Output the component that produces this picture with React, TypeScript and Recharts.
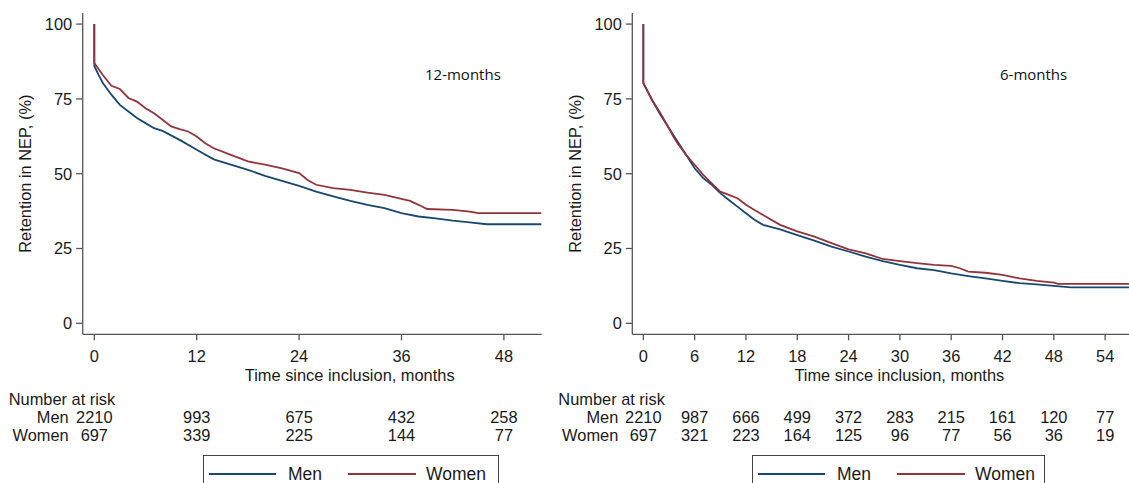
import React from 'react';
import { LineChart, Line, XAxis, YAxis } from 'recharts';

const MEN_COLOR = '#1a476f';
const WOMEN_COLOR = '#90353b';
const AXIS_COLOR = '#555';
const TEXT_COLOR = '#1a1a1a';
const FONT = '"Liberation Sans", Arial, sans-serif';
const FS = 16.4;

// 12-month panel (left)
const ticks12 = [0, 12, 24, 36, 48];
const menTime12 = [0, 0, 0.5, 1, 2, 3, 4, 5, 6, 7, 8, 10, 12, 14, 16, 18, 20, 22, 24, 26, 28, 30, 32, 34, 36, 38, 40, 42, 44, 46, 52.4];
const menRet12 = [100, 86, 83, 80.3, 76.4, 73, 70.8, 68.6, 66.9, 65.2, 64.3, 61.3, 58, 54.8, 53, 51.3, 49.3, 47.6, 45.9, 44, 42.4, 40.9, 39.6, 38.5, 36.8, 35.7, 35.1, 34.3, 33.7, 33.1, 33.1];
const womenTime12 = [0, 0, 1, 2, 3, 4, 5, 6, 7, 8, 9, 10, 11, 12, 13, 14, 16, 18, 20, 22, 24, 25, 26, 28, 30, 32, 34, 36, 37, 38, 39, 42, 44, 45, 52.4];
const womenRet12 = [100, 87, 83, 79.4, 78.3, 75.3, 74.1, 71.9, 70.2, 68, 65.8, 64.9, 64.1, 62.4, 60.2, 58.5, 56.3, 54.1, 53, 51.8, 50.2, 47.9, 46.3, 45.2, 44.6, 43.7, 42.9, 41.6, 40.9, 39.6, 38.2, 37.9, 37.3, 36.8, 36.8];
const menRisk12 = [2210, 993, 675, 432, 258];
const womenRisk12 = [697, 339, 225, 144, 77];

// 6-month panel (right)
const ticks6 = [0, 6, 12, 18, 24, 30, 36, 42, 48, 54];
const menTime6 = [0, 0, 0.5, 1, 2, 3, 4, 5, 6, 7, 8, 9, 10, 11, 12, 13, 14, 16, 18, 20, 22, 24, 26, 28, 30, 32, 34, 36, 38, 40, 42, 44, 46, 48, 50, 61];
const menRet6 = [100, 80.3, 77.5, 74.7, 69.7, 65.2, 60.8, 56.3, 51.8, 48.5, 46.3, 43.5, 41.2, 39, 36.8, 34.6, 32.9, 31.4, 29.5, 27.6, 25.6, 24, 22.3, 20.8, 19.5, 18.4, 17.8, 16.7, 15.8, 15, 14.2, 13.4, 13, 12.5, 12, 12];
const womenTime6 = [0, 0, 1, 2, 3, 3.5, 4, 5, 6, 7, 8, 9, 10, 11, 12, 13, 14, 16, 18, 20, 22, 24, 26, 28, 30, 32, 34, 36, 37, 38, 40, 42, 44, 46, 48, 48.5, 61];
const womenRet6 = [100, 80.3, 74.7, 70.2, 65.2, 62.4, 60.2, 56.3, 53, 49.6, 46.8, 44, 42.9, 41.8, 39.6, 37.9, 36.2, 32.9, 30.7, 29, 26.8, 24.7, 23.4, 21.5, 20.8, 20.1, 19.5, 19.2, 18.4, 17.3, 16.9, 16.2, 15, 14.2, 13.6, 13.2, 13.2];
const menRisk6 = [2210, 987, 666, 499, 372, 283, 215, 161, 120, 77];
const womenRisk6 = [697, 321, 223, 164, 125, 96, 77, 56, 36, 19];

const yTicks = [0, 25, 50, 75, 100];

const zip = (t: number[], v: number[]) => t.map((x, i) => ({ t: x, v: v[i] }));

const tickStyle = { fill: TEXT_COLOR, fontSize: FS, fontFamily: FONT };

type PanelProps = {
  left: number;
  width: number;
  yAxisWidth: number;
  marginRight: number;
  domain: [number, number];
  ticks: number[];
  men: { t: number; v: number }[];
  women: { t: number; v: number }[];
  menRisk: number[];
  womenRisk: number[];
  note: string;
  noteX: number;
};

function Panel(p: PanelProps) {
  const riskFmt = (arr: number[]) => (v: number) => {
    const i = p.ticks.indexOf(v);
    return i >= 0 ? String(arr[i]) : '';
  };
  const rowLabel = (name: string) => (props: any) => {
    const vb = props.viewBox || {};
    return (
      <text x={vb.x - 14} y={vb.y + 6.8} dy="0.71em" textAnchor="end" fill={TEXT_COLOR} fontSize={FS} fontFamily={FONT}>
        {name}
      </text>
    );
  };
  const xTitle = (props: any) => {
    const vb = props.viewBox || {};
    return (
      <g>
        <text x={vb.x + 267} y={380.5} textAnchor="middle" fill={TEXT_COLOR} fontSize={FS} fontFamily={FONT}>
          Time since inclusion, months
        </text>
        <text x={vb.x - 74} y={404.5} textAnchor="start" fill={TEXT_COLOR} fontSize={FS} fontFamily={FONT}>
          Number at risk
        </text>
      </g>
    );
  };
  const yTitle = (props: any) => {
    const vb = props.viewBox || {};
    const cx = 25;
    const cy = vb.y + vb.height / 2;
    return (
      <g>
        <text x={cx} y={cy} transform={`rotate(-90 ${cx} ${cy})`} textAnchor="middle" dominantBaseline="central" fill={TEXT_COLOR} fontSize={FS} fontFamily={FONT}>
          Retention in NEP, (%)
        </text>
        <text x={p.noteX} y={80} textAnchor="start" fill="#111" fontSize={15} fontFamily='"Open Sans", "Noto Sans", sans-serif'>
          {p.note}
        </text>
      </g>
    );
  };

  return (
    <div style={{ position: 'absolute', left: p.left, top: 0 }}>
      <LineChart width={p.width} height={483} margin={{ top: 13, right: p.marginRight, left: 0, bottom: 42.7 }}>
        <XAxis
          xAxisId="main"
          type="number"
          dataKey="t"
          domain={p.domain}
          ticks={p.ticks}
          interval={0}
          allowDataOverflow
          stroke={AXIS_COLOR}
          strokeWidth={1.3}
          tickSize={6}
          tickMargin={10}
          height={70}
          tick={tickStyle}
          label={xTitle}
        />
        <XAxis
          xAxisId="menRisk"
          type="number"
          dataKey="t"
          domain={p.domain}
          ticks={p.ticks}
          interval={0}
          allowDataOverflow
          axisLine={false}
          tickLine={false}
          tickSize={0}
          tickMargin={6.8}
          height={18}
          tick={tickStyle}
          tickFormatter={riskFmt(p.menRisk)}
          label={rowLabel('Men')}
        />
        <XAxis
          xAxisId="womenRisk"
          type="number"
          dataKey="t"
          domain={p.domain}
          ticks={p.ticks}
          interval={0}
          allowDataOverflow
          axisLine={false}
          tickLine={false}
          tickSize={0}
          tickMargin={6.8}
          height={18}
          tick={tickStyle}
          tickFormatter={riskFmt(p.womenRisk)}
          label={rowLabel('Women')}
        />
        <YAxis
          type="number"
          domain={[-3.67, 103.7]}
          ticks={yTicks}
          interval={0}
          allowDataOverflow
          width={p.yAxisWidth}
          stroke={AXIS_COLOR}
          strokeWidth={1.3}
          tickSize={6.5}
          tickMargin={4}
          tick={tickStyle}
          label={yTitle}
        />
        <Line xAxisId="main" data={p.men} dataKey="v" type="linear" stroke={MEN_COLOR} strokeWidth={1.8} dot={false} isAnimationActive={false} />
        <Line xAxisId="main" data={p.women} dataKey="v" type="linear" stroke={WOMEN_COLOR} strokeWidth={1.8} dot={false} isAnimationActive={false} />
      </LineChart>
    </div>
  );
}

function LegendBox({ left, width }: { left: number; width: number }) {
  const txt: React.CSSProperties = { position: 'absolute', top: 8, fontSize: 17.5, fontFamily: FONT, color: TEXT_COLOR, lineHeight: '20px' };
  return (
    <div style={{ position: 'absolute', left, top: 455, width, height: 40, border: `1px solid #444`, boxSizing: 'border-box', background: '#fff' }}>
      <div style={{ position: 'absolute', left: 5, top: 17, width: 67, height: 2, background: MEN_COLOR }} />
      <div style={{ ...txt, left: 84 }}>Men</div>
      <div style={{ position: 'absolute', left: 144, top: 17, width: 68, height: 2, background: WOMEN_COLOR }} />
      <div style={{ ...txt, left: 222 }}>Women</div>
    </div>
  );
}

export default function App() {
  return (
    <div style={{ position: 'absolute', left: 0, top: 0, width: 1129, height: 483, overflow: 'hidden', background: '#fff' }}>
      <Panel
        left={0}
        width={560}
        yAxisWidth={82.7}
        marginRight={18.3}
        domain={[-1.36, 52.43]}
        ticks={ticks12}
        men={zip(menTime12, menRet12)}
        women={zip(womenTime12, womenRet12)}
        menRisk={menRisk12}
        womenRisk={womenRisk12}
        note="12-months"
        noteX={425}
      />
      <Panel
        left={550}
        width={620}
        yAxisWidth={82.3}
        marginRight={5}
        domain={[-1.29, 61]}
        ticks={ticks6}
        men={zip(menTime6, menRet6)}
        women={zip(womenTime6, womenRet6)}
        menRisk={menRisk6}
        womenRisk={womenRisk6}
        note="6-months"
        noteX={450}
      />
      <LegendBox left={203} width={296} />
      <LegendBox left={752} width={293} />
    </div>
  );
}
